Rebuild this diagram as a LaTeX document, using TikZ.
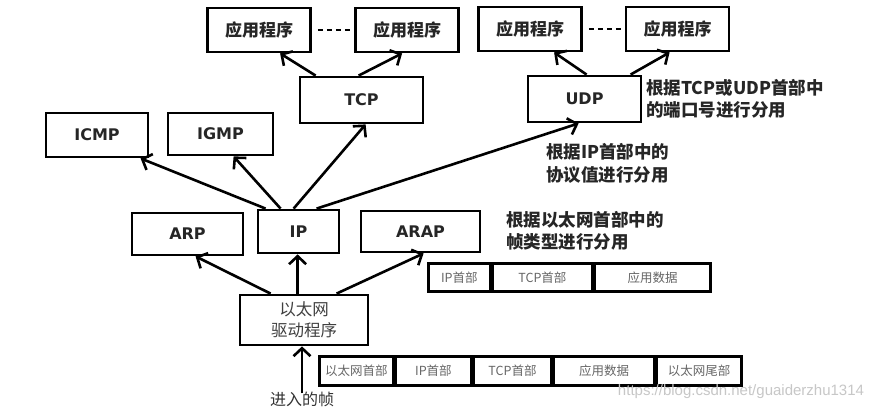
\documentclass[tikz,border=0pt]{standalone}
\usepackage{fontspec}
\usetikzlibrary{arrows.meta}
\newfontfamily\cjk{Noto Sans CJK SC}
\newfontfamily\lat{DejaVu Sans}
\newfontfamily\wmfont{Liberation Sans}
\begin{document}
\begin{tikzpicture}[x=1pt,y=-1pt,
  box/.style={draw, line width=2.8pt, inner sep=0pt, text=black!85},
  cjkb/.style={font=\cjk\bfseries\fontsize{17}{20}\selectfont},
  latb/.style={font=\lat\bfseries\fontsize{16}{18}\selectfont},
  appbox/.style={box, cjkb, minimum width=103pt, minimum height=44pt},
  cell/.style={draw, line width=2.6pt, inner sep=0pt, minimum height=28.5pt,
    font=\cjk\fontsize{12.5}{14}\selectfont, text=black!60},
  note/.style={align=left, anchor=west, inner sep=0pt, text=black!85,
    font=\cjk\bfseries\fontsize{17.5}{22.5}\selectfont},
  arr/.style={line width=2.6pt, -{Straight Barb[length=8pt,width=17pt,line width=2.6pt]}},
  dots/.style={line width=2.2pt, dash pattern=on 5pt off 4pt}
]
\useasboundingbox[fill=white] (0,0) rectangle (879,411);

% application boxes
\node[appbox] (app1) at (259,30) {应用程序};
\node[appbox] (app2) at (407,30) {应用程序};
\node[appbox] (app3) at (530,29) {应用程序};
\node[appbox] (app4) at (677.5,29) {应用程序};
\path (app1.east) ++(6pt,0) coordinate (d1a) (app2.west) ++(-4pt,0) coordinate (d1b);
\draw[dots] (d1a) -- (d1b);
\path (app3.east) ++(6pt,0) coordinate (d2a) (app4.west) ++(-4pt,0) coordinate (d2b);
\draw[dots] (d2a) -- (d2b);

% transport
\node[box, latb, minimum width=123pt, minimum height=46pt] (tcp) at (361.5,100) {TCP};
\node[box, latb, minimum width=113pt, minimum height=46pt] (udp) at (584.5,99) {UDP};

% network
\node[box, latb, minimum width=102pt, minimum height=44pt] (icmp) at (97,135) {ICMP};
\node[box, latb, minimum width=105pt, minimum height=42pt] (igmp) at (220.5,134) {IGMP};
\node[box, latb, minimum width=111pt, minimum height=42pt] (arp) at (187.5,234) {ARP};
\node[box, latb, minimum width=81pt, minimum height=43pt] (ip) at (298.5,231.5) {IP};
\node[box, latb, minimum width=119pt, minimum height=41pt] (arap) at (420.5,231.5) {ARAP};

% driver
\node[box, minimum width=128pt, minimum height=50pt, align=center, text=black!75,
  font=\cjk\fontsize{16.5}{21}\selectfont] (drv) at (304,320) {以太网\\驱动程序};

% notes
\node[note] (n1) at (646,99) {根据TCP或UDP首部中\\的端口号进行分用};
\node[note] (n2) at (546,163.5) {根据IP首部中的\\协议值进行分用};
\node[note] (n3) at (506,231) {根据以太网首部中的\\帧类型进行分用};

% frame row 1
\node[cell, minimum width=62pt, anchor=west] (r1a) at (427,277.5) {IP首部};
\node[cell, minimum width=99pt, anchor=west] (r1b) at (r1a.east) {TCP首部};
\node[cell, minimum width=116pt, anchor=west] (r1c) at (r1b.east) {应用数据};

% frame row 2
\node[cell, minimum width=74pt, anchor=west] (r2a) at (318,371) {以太网首部};
\node[cell, minimum width=75pt, anchor=west] (r2b) at (r2a.east) {IP首部};
\node[cell, minimum width=78pt, anchor=west] (r2c) at (r2b.east) {TCP首部};
\node[cell, minimum width=100pt, anchor=west] (r2d) at (r2c.east) {应用数据};
\node[cell, minimum width=85pt, anchor=west] (r2e) at (r2d.east) {以太网尾部};

% incoming frame label
\node[inner sep=0pt, text=black!80, font=\cjk\fontsize{16}{18}\selectfont] (in) at (302,399) {进入的帧};

% arrows
\draw[arr] ([xshift=17pt]tcp.north west) -- ([xshift=74pt]app1.south west);
\draw[arr] ([xshift=60pt]tcp.north west) -- ([xshift=48pt]app2.south west);
\draw[arr] ([xshift=60pt]udp.north west) -- ([xshift=77pt]app3.south west);
\draw[arr] ([xshift=104pt]udp.north west) -- ([xshift=45pt]app4.south west);

\draw[arr] ([xshift=9pt]ip.north west) -- ([xshift=96pt]icmp.south west);
\draw[arr] ([xshift=24pt]ip.north west) -- ([xshift=67pt]igmp.south west);
\draw[arr] ([xshift=37pt]ip.north west) -- ([xshift=67pt]tcp.south west);
\draw[arr] ([xshift=60pt]ip.north west) -- ([xshift=52pt]udp.south west);

\draw[arr] ([xshift=32pt]drv.north west) -- ([xshift=65pt]arp.south west);
\draw[arr] ([xshift=59pt]drv.north west) -- ([xshift=41pt]ip.south west);
\draw[arr] ([xshift=98pt]drv.north west) -- ([xshift=64pt]arap.south west);

\draw[arr] ([yshift=-2pt]in.north) -- ([xshift=-2pt]drv.south);

% watermark
\node[inner sep=0pt, text=black!22, font=\wmfont\fontsize{15}{17}\selectfont] (wm) at (741,392) {https://blog.csdn.net/guaiderzhu1314};
\end{tikzpicture}
\end{document}
